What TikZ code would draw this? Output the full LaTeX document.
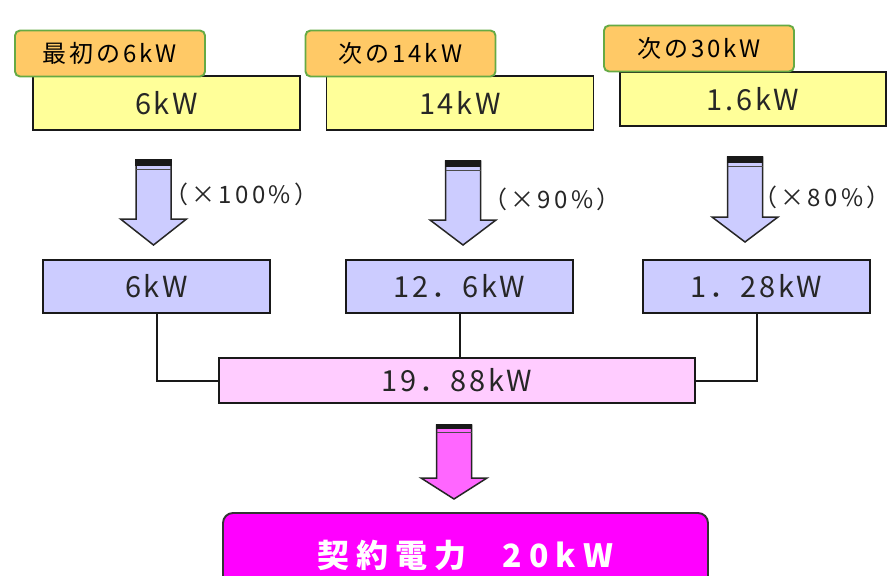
\documentclass[tikz,border=0pt]{standalone}
\usepackage{fontspec}
\newfontfamily\jplab[LetterSpace=12]{Noto Sans CJK JP}
\newfontfamily\jpval[LetterSpace=9]{Noto Sans CJK JP}
\newfontfamily\jppct[LetterSpace=14]{Noto Sans CJK JP}
\newfontfamily\jpbig[LetterSpace=22]{Noto Sans CJK JP}
\definecolor{lblfill}{HTML}{FFC966}
\definecolor{lblborder}{HTML}{66AA44}
\definecolor{yel}{HTML}{FFFF99}
\definecolor{lav}{HTML}{CCCCFF}
\definecolor{pinkl}{HTML}{FFCCFF}
\definecolor{pinka}{HTML}{FF66FF}
\definecolor{mag}{HTML}{FF00FF}
\newcommand\fatarrow[6]{% x, ytop, yhead, ytip, fill, band
  \filldraw[fill=#5, draw=black!85, line width=1.5pt, line join=miter]
    (#1-17.5,#2) -- (#1+17.5,#2) -- (#1+17.5,#3) -- (#1+33,#3) -- (#1,#4)
    -- (#1-33,#3) -- (#1-17.5,#3) -- cycle;
  \fill[black!90] (#1-18.2,#2-0.7) rectangle (#1+18.2,#2+#6);
  \draw[black!70, line width=1pt] (#1-17.5,#2+#6+3.5) -- (#1+17.5,#2+#6+3.5);
}
\tikzset{
  lbl/.style={draw=lblborder, fill=lblfill, line width=1.9pt, rounded corners=5pt,
    minimum width=190pt, minimum height=46pt, inner sep=0pt,
    font=\jplab\fontsize{24}{28}\selectfont, text=black},
  valbox/.style={draw=black!90, line width=1.9pt, minimum width=267pt, minimum height=54pt,
    inner sep=0pt, font=\jpval\fontsize{29}{32}\selectfont, text=black!85},
  topbox/.style={valbox, fill=yel},
  midbox/.style={valbox, fill=lav, minimum width=227pt, minimum height=53pt},
  sumbox/.style={valbox, fill=pinkl, minimum width=476pt, minimum height=45pt},
  pct/.style={anchor=west, inner sep=0pt, font=\jppct\fontsize{24}{27}\selectfont, text=black!85},
  link/.style={draw=black!90, line width=2pt},
  final/.style={draw=black!80, fill=mag, line width=1.9pt, rounded corners=10pt,
    minimum width=485pt, minimum height=84pt, inner sep=0pt,
    font=\jpbig\bfseries\fontsize{32}{36}\selectfont, text=white}
}
\begin{document}
\begin{tikzpicture}[x=1pt, y=-1pt]
\useasboundingbox (0,0) rectangle (893,575);
\clip (0,0) rectangle (893,575);
% top row
\node[topbox] (y1) at (166.5,103) {6kW};
\node[topbox] (y2) at (460,103) {14kW};
\node[topbox, minimum width=266pt] (y3) at (753,99) {1.6kW};
\node[lbl] (l1) at (110,53.5) {最初の6kW};
\node[lbl] (l2) at (400.5,53.5) {次の14kW};
\node[lbl] (l3) at (699,48.5) {次の30kW};
% arrows
\fatarrow{153.5}{160}{219}{245}{lav}{6}
\fatarrow{463}{161}{220}{245}{lav}{6}
\fatarrow{745}{157}{217}{242}{lav}{6}
\node[pct] (p1) at (164,194) {（×100\%）};
\node[pct] (p2) at (483,199) {（×90\%）};
\node[pct] (p3) at (753,197) {（×80\%）};
% middle row
\node[midbox] (m1) at (156.5,286.5) {6kW};
\node[midbox] (m2) at (459.5,286.5) {12．6kW};
\node[midbox] (m3) at (756.5,286.5) {1．28kW};
\node[sumbox] (s) at (457,380.5) {19．88kW};
\draw[link] (m1.south) |- (s.west);
\draw[link] (m2.south) -- (m2.south |- s.north);
\draw[link] (m3.south) |- (s.east);
% pink arrow
\fatarrow{454}{425}{478}{499}{pinka}{4}
% final
\node[final] (f) at (465.5,555) {契約電力\hspace{36pt}20kW};
\end{tikzpicture}
\end{document}
